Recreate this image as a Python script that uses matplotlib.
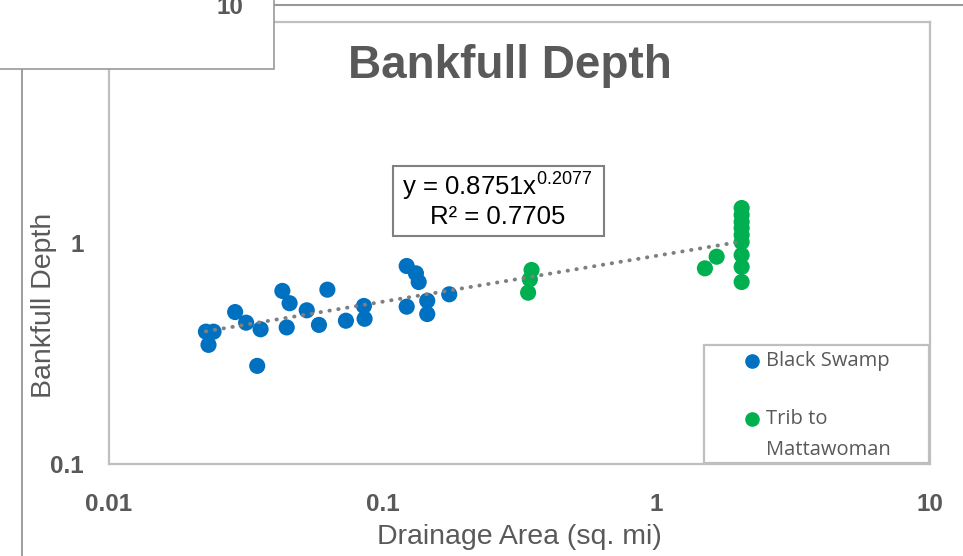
import matplotlib.pyplot as plt
import numpy as np
from matplotlib.patches import Rectangle
from matplotlib.lines import Line2D

plt.rcParams['font.family'] = ['Liberation Sans', 'DejaVu Sans']
plt.rcParams['mathtext.fontset'] = 'custom'
plt.rcParams['mathtext.rm'] = 'Liberation Sans'

# Black Swamp sites
bs_area = [0.0226, 0.0241, 0.0231, 0.0289, 0.0317, 0.0358, 0.0348, 0.0430,
           0.0457, 0.0446, 0.0528, 0.0585, 0.0628, 0.0734, 0.0854, 0.0859,
           0.1224, 0.1323, 0.1354, 0.1224, 0.1455, 0.1455, 0.1751]
bs_depth = [0.397, 0.397, 0.346, 0.487, 0.436, 0.407, 0.278, 0.607,
            0.534, 0.415, 0.496, 0.426, 0.615, 0.445, 0.519, 0.454,
            0.787, 0.729, 0.666, 0.515, 0.548, 0.477, 0.586]

# Trib to Mattawoman sites
tm_area = [0.350, 0.345, 0.340, 1.505, 1.661,
           2.05, 2.05, 2.05, 2.05, 2.05, 2.05, 2.05, 2.05, 2.05]
tm_depth = [0.755, 0.685, 0.596, 0.768, 0.867,
            1.440, 1.339, 1.245, 1.169, 1.087, 1.010, 0.882, 0.779, 0.666]

# power trendline y = a * x^b
coef_a = 0.8751
coef_b = 0.2077
r2 = 0.7705

blue = '#0070C0'
green = '#00B050'
grey = '#595959'

fig = plt.figure(figsize=(9.63, 5.56), dpi=100)
ax = fig.add_axes([109 / 963, 92 / 556, 821 / 963, 442 / 556])

all_x = np.array(bs_area + tm_area)
xt = np.geomspace(all_x.min(), all_x.max(), 200)
ax.plot(xt, coef_a * xt ** coef_b, linestyle=(0, (0.1, 2.2)), color='#7f7f7f',
        lw=2.8, dash_capstyle='round', zorder=3)

ax.scatter(bs_area, bs_depth, s=135, color=blue, edgecolors='none', zorder=2)
ax.scatter(tm_area, tm_depth, s=135, color=green, edgecolors='none', zorder=2)

ax.set_xscale('log')
ax.set_yscale('log')
ax.set_xlim(0.01, 10)
ax.set_ylim(0.1, 10)
ax.minorticks_off()
ax.set_xticks([0.01, 0.1, 1, 10], ['0.01', '0.1', '1', '10'])
ax.set_yticks([0.1, 1], ['0.1', '1'])
ax.tick_params(axis='both', length=0, labelsize=17.5, labelcolor=grey)
ax.tick_params(axis='x', pad=21)
ax.tick_params(axis='y', pad=18)
for lab in ax.get_xticklabels() + ax.get_yticklabels():
    lab.set_fontweight('bold')
for sp in ax.spines.values():
    sp.set_color('#bfbfbf')
    sp.set_linewidth(1.6)

ax.set_xlabel('Drainage Area (sq. mi)', fontsize=20.5, color=grey)
ax.xaxis.set_label_coords(0.5, -0.135)
ax.set_ylabel('Bankfull Depth', fontsize=20.5, color=grey)
ax.yaxis.set_label_coords(-0.063, 0.36)

ax.text(0.488, 0.9, 'Bankfull Depth', transform=ax.transAxes, ha='center',
        va='center', fontsize=33, fontweight='bold', color=grey)

# equation box
ax.add_patch(Rectangle((284 / 821, 228 / 442), 211 / 821, 70 / 442,
                       transform=ax.transAxes, facecolor='white',
                       edgecolor='#808080', lw=1.5, zorder=4))
ax.text(0.473, 0.630, r'y = 0.8751x$^{\mathregular{0.2077}}$', transform=ax.transAxes,
        ha='center', va='center', fontsize=18.5, color='black', zorder=5)
ax.text(0.473, 0.558, 'R² = 0.7705', transform=ax.transAxes,
        ha='center', va='center', fontsize=18.5, color='black', zorder=5)

# legend box
ax.add_patch(Rectangle((0.7247, 0.002), 0.274, 0.267, transform=ax.transAxes,
                       facecolor='white', edgecolor='#bfbfbf', lw=1.6, zorder=4))
ax.plot([0.783], [0.232], 'o', color=blue, ms=9.5, transform=ax.transAxes,
        zorder=5, clip_on=False)
ax.plot([0.783], [0.102], 'o', color=green, ms=9.5, transform=ax.transAxes,
        zorder=5, clip_on=False)
ax.text(0.800, 0.232, 'Black Swamp', transform=ax.transAxes, va='center',
        fontsize=14.5, color=grey, family='Open Sans', zorder=5)
ax.text(0.800, 0.102, 'Trib to', transform=ax.transAxes, va='center',
        fontsize=14.5, color=grey, family='Open Sans', zorder=5)
ax.text(0.800, 0.032, 'Mattawoman', transform=ax.transAxes, va='center',
        fontsize=14.5, color=grey, family='Open Sans', zorder=5)

# stray frame pieces around the chart
fig.add_artist(Line2D([22 / 963, 22 / 963], [0, 1 - 69 / 556], color='#8c8c8c',
                      lw=1.2, transform=fig.transFigure))
fig.add_artist(Line2D([274 / 963, 1], [1 - 5 / 556, 1 - 5 / 556], color='#999999',
                      lw=1.5, transform=fig.transFigure))
fig.add_artist(Rectangle((-0.01, 1 - 69 / 556), 0.01 + 274 / 963, 0.2,
                         transform=fig.transFigure, facecolor='white',
                         edgecolor='#999999', lw=1.2, zorder=5))
fig.text(230 / 963, 1 - 8 / 556, '10', ha='center', va='center', fontsize=17.5,
         fontweight='bold', color=grey, zorder=6)

fig.savefig('out.png', dpi=100)
